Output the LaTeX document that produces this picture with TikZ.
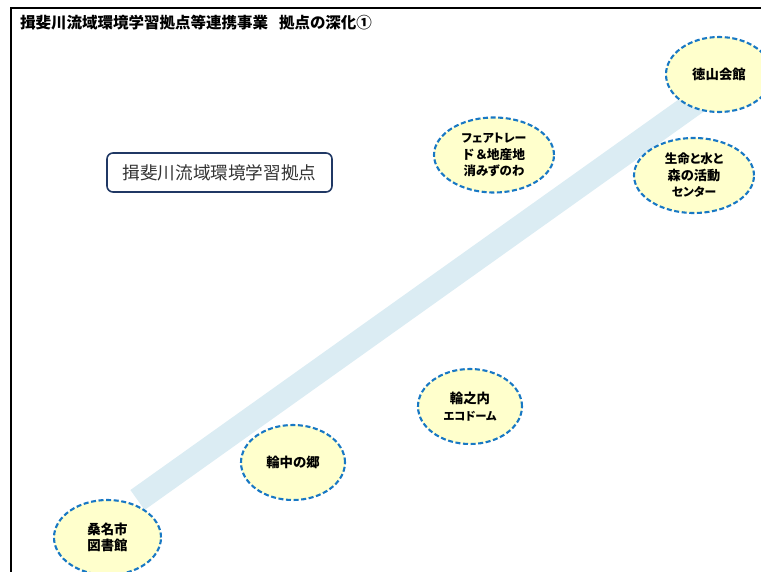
\documentclass[tikz,border=0pt]{standalone}
\usepackage{fontspec}
\setmainfont[RawFeature={+palt}]{Noto Sans CJK JP}
\usetikzlibrary{shapes.geometric}
\definecolor{bandc}{HTML}{DBECF3}
\definecolor{dashc}{HTML}{1878C4}
\definecolor{fillc}{HTML}{FFFFCC}
\definecolor{boxc}{HTML}{203864}
\newcommand{\lsize}[1]{\fontsize{#1}{16.5}\selectfont}
\tikzset{
  site/.style={ellipse,draw=dashc,fill=fillc,line width=2.1pt,dash pattern=on 5pt off 2.6pt,
    minimum width=#1,minimum height=75pt,inner sep=0pt,align=center,
    font=\fontsize{13.4}{16.5}\selectfont\bfseries,text=black},
  site/.default=104pt,
  band/.style={draw=bandc,line width=24.5pt,line cap=butt},
  frameline/.style={draw=black,line width=2pt},
}
\begin{document}
\begin{tikzpicture}[x=1pt,y=-1pt]
\useasboundingbox (0,0) rectangle (761,572);
\clip (0,0) rectangle (761,572);
\coordinate (bandA) at (137.5,500);
\coordinate (bandB) at (715,88.6);
\coordinate (fA) at (11,572);
\coordinate (fC) at (11,8);
\coordinate (fB) at (761,8);
\draw[frameline] (fA) -- (fC) -- (fB);
\draw[band] (bandA) -- (bandB);
\node[site=107pt] (kuwana) at (107.5,537.5) {桑名市\\図書館};
\node[site=104pt] (wajuu) at (293,462.5) {輪中の郷};
\node[site=104pt] (wanouchi) at (470,406.5) {輪之内\\\lsize{11.3}エコドーム};
\node[site=120pt] (fair) at (494,155) {\lsize{11.9}フェアトレー\\\lsize{12.8}ド\,＆地産地\\\lsize{12.4}消みずのわ};
\node[site=120pt] (seimei) at (694,175.5) {\lsize{12.5}生命と水と\\\lsize{13.2}森の活動\\\lsize{11.8}センター};
\node[site=106pt] (tokuyama) at (719,74.5) {徳山会館};
\node[draw=boxc,line width=1.6pt,rounded corners=6pt,fill=white,minimum width=225pt,minimum height=39pt,inner sep=0pt,font=\fontsize{17.6}{18}\selectfont,text=black!80] (base) at (219.5,172.5) {揖斐川流域環境学習拠点};
\node[anchor=west,inner sep=0pt,font=\fontsize{15.5}{18}\selectfont\bfseries,text=black] (title) at (20,23) {揖斐川流域環境学習拠点等連携事業\hspace{0.7em}拠点の深化①};
\end{tikzpicture}
\end{document}
